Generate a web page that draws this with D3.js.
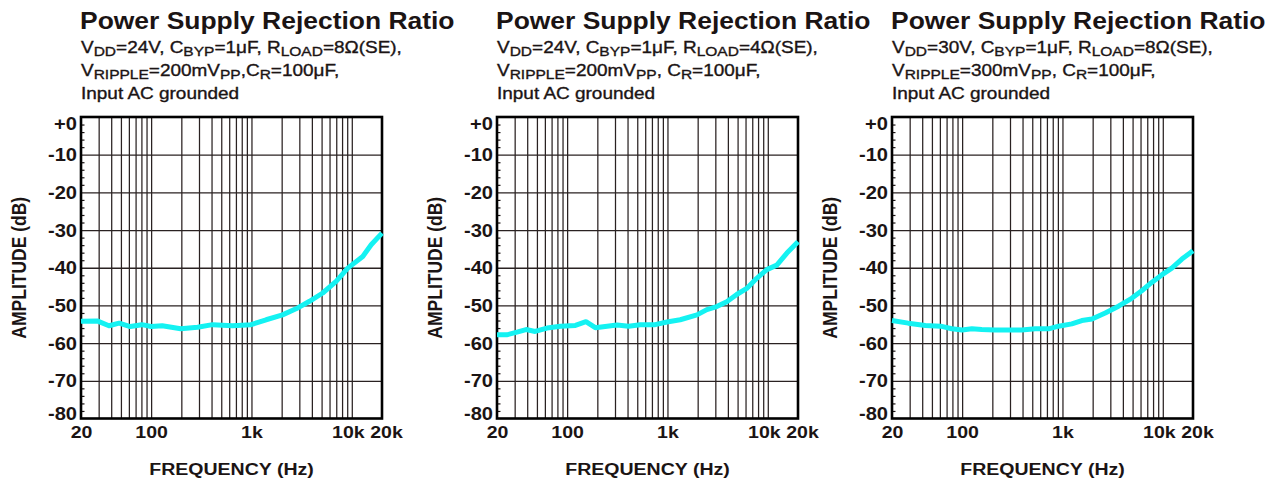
<!DOCTYPE html>
<html>
<head>
<meta charset="utf-8">
<script src="https://cdn.jsdelivr.net/npm/d3@7"></script>
<style>
	body { margin: 0; background: #fff; }
	svg { display: block; font-family: "Liberation Sans", Arial, Helvetica, sans-serif; }
</style>
</head>
<body>
<div id="chart"></div>
<script>
'use strict';


// ----------   Data   ------------ //

const titleText = "Power Supply Rejection Ratio";

const subtitlesA = ["V_{DD}=24V, C_{BYP}=1μF, R_{LOAD}=8Ω(SE),", "V_{RIPPLE}=200mV_{PP},C_{R}=100μF,", "Input AC grounded"];
const subtitlesB = ["V_{DD}=24V, C_{BYP}=1μF, R_{LOAD}=4Ω(SE),", "V_{RIPPLE}=200mV_{PP}, C_{R}=100μF,", "Input AC grounded"];
const subtitlesC = ["V_{DD}=30V, C_{BYP}=1μF, R_{LOAD}=8Ω(SE),", "V_{RIPPLE}=300mV_{PP}, C_{R}=100μF,", "Input AC grounded"];

const frequencyA = [20, 29, 38, 48, 62, 81, 100, 129, 197, 290, 410, 648, 990, 1400, 2040, 2780, 3790, 5130, 6980, 9120, 12860, 15600, 20000];
const amplitudeA = [-54.2, -54.1, -55.4, -54.7, -55.6, -55.1, -55.6, -55.4, -56.2, -55.8, -55.1, -55.4, -55.1, -53.8, -52.5, -50.9, -48.9, -46.7, -43.6, -40.1, -37.0, -33.9, -30.8];

const frequencyB = [20, 25, 31.6, 39, 48, 63, 86, 121, 154, 191, 314, 410, 536, 755, 987, 1340, 1970, 2470, 3100, 3900, 4900, 6170, 7760, 9770, 12300, 15500, 20000];
const amplitudeB = [-57.8, -57.8, -57.1, -56.4, -56.9, -56.0, -55.5, -55.3, -54.3, -55.9, -55.2, -55.5, -55.1, -55.1, -54.4, -53.8, -52.5, -51.1, -50.3, -49.0, -47.1, -45.5, -42.8, -40.5, -39.3, -36.1, -33.1];

const frequencyC = [20, 29, 43, 61, 79, 100, 125, 157, 213, 290, 392, 536, 728, 915, 1240, 1560, 1970, 2670, 3620, 4900, 6170, 7760, 9770, 12300, 15500, 20000];
const amplitudeC = [-54.0, -54.7, -55.3, -55.5, -56.2, -56.5, -56.2, -56.4, -56.5, -56.5, -56.5, -56.2, -56.2, -55.5, -54.9, -54.0, -53.6, -52.0, -50.2, -48.1, -46.1, -43.9, -41.9, -40.1, -37.7, -35.5];

const xTickValues = [20, 100, 1000, 10000, 20000];
const xTickLabels = ["20", "100", "1k", "10k", "20k"];
const xGridValues = [30, 40, 50, 60, 70, 80, 90, 100, 200, 300, 400, 500, 600, 700, 800, 900, 1000, 2000, 3000, 4000, 5000, 6000, 7000, 8000, 9000, 10000];

const yTickValues = [0, -10, -20, -30, -40, -50, -60, -70, -80];
const yTickLabels = ["+0", "-10", "-20", "-30", "-40", "-50", "-60", "-70", "-80"];


// ----------   Layout   ------------ //

const SX       = 1.15;     // the source artwork is stretched horizontally
const plotTop  = 117;
const plotW    = 301;
const plotH    = 301.5;
const lefts    = [81, 497, 892];
const ink      = "#1b1414";
const gridInk  = "#2a2222";
const cyan     = "#14f2f2";


const svg = d3.select("#chart")
	.append("svg")
	.attr("width", 1278)
	.attr("height", 483);


const stretched = (g, x, y, str, size, weight, anchor) => g
	.append("text")
	.attr("transform", `translate(${x},${y}) scale(${SX},1)`)
	.attr("font-size", size)
	.attr("font-weight", weight)
	.attr("text-anchor", anchor)
	.attr("fill", ink)
	.text(str);


const richLine = (g, x, y, str) =>
{
	const text = g.append("text")
		.attr("transform", `translate(${x},${y}) scale(${SX},1)`)
		.attr("font-size", 16.5)
		.attr("fill", ink)
		.attr("stroke", ink)
		.attr("stroke-width", 0.35);

	const parts = str.split(/_\{([^}]*)\}/);
	parts.forEach((part, i) =>
	{
		if (part === "") return;
		const isSub = i % 2 === 1;
		text.append("tspan")
			.attr("font-size", isSub ? 13.5 : 16.5)
			.attr("dy", isSub ? 3 : (i > 0 ? -3 : 0))
			.text(part);
	});
};


const drawPanel = (left, subtitles, freqs, amps) =>
{
	const x = d3.scaleLog().domain([20, 20000]).range([0, plotW]);
	const y = d3.scaleLinear().domain([-80, 0]).range([plotH, 0]);

	const g = svg.append("g")
		.attr("transform", `translate(${left},${plotTop})`);

	// headings
	stretched(svg, left - 1, 29, titleText, 23, "bold", "start");
	subtitles.forEach((line, i) => richLine(svg, left, 53 + i * 23, line));

	// grid
	g.append("g")
		.attr("transform", `translate(0,${plotH})`)
		.call(d3.axisBottom(x).tickValues(xGridValues).tickSize(-plotH).tickFormat(""))
		.call(a => a.select(".domain").remove())
		.selectAll("line")
		.attr("stroke", gridInk)
		.attr("stroke-width", 1.25);

	g.append("g")
		.call(d3.axisLeft(y).tickValues(yTickValues.slice(1, -1)).tickSize(-plotW).tickFormat(""))
		.call(a => a.select(".domain").remove())
		.selectAll("line")
		.attr("stroke", gridInk)
		.attr("stroke-width", 1.3);

	// minor ticks inside the left edge
	g.append("g")
		.call(d3.axisRight(y).tickValues(d3.range(-78, 0, 2).filter(v => v % 10 !== 0)).tickSize(3.5).tickFormat(""))
		.call(a => a.select(".domain").remove())
		.selectAll("line")
		.attr("stroke", ink)
		.attr("stroke-width", 1.2);

	g.append("rect")
		.attr("width", plotW)
		.attr("height", plotH)
		.attr("fill", "none")
		.attr("stroke", "#000")
		.attr("stroke-width", 2.6);

	// tick labels
	g.append("g")
		.call(d3.axisLeft(y).tickValues(yTickValues).tickSize(0).tickFormat((d, i) => yTickLabels[i]))
		.call(a => a.select(".domain").remove())
		.selectAll("text")
		.attr("x", -4 / SX)
		.attr("dy", d => d === 0 ? "0.7em" : d === -80 ? "0.05em" : "0.35em")
		.attr("transform", `scale(${SX},1)`)
		.attr("font-size", 17.5)
		.attr("font-weight", "bold")
		.attr("font-family", "Liberation Sans, Arial, sans-serif")
		.attr("fill", ink);

	g.append("g")
		.attr("transform", `translate(0,${plotH})`)
		.call(d3.axisBottom(x).tickValues(xTickValues).tickSize(0).tickFormat((d, i) => xTickLabels[i]))
		.call(a => a.select(".domain").remove())
		.selectAll("text")
		.attr("x", d => (d === 10000 ? -4 : d === 20000 ? 4 : 0) / SX)
		.attr("y", 20)
		.attr("dy", 0)
		.attr("transform", `scale(${SX},1)`)
		.attr("font-size", 17)
		.attr("font-weight", "bold")
		.attr("font-family", "Liberation Sans, Arial, sans-serif")
		.attr("fill", ink);

	// axis titles
	stretched(g, plotW / 2, 358, "FREQUENCY (Hz)", 17, "bold", "middle");

	g.append("text")
		.attr("transform", `translate(-55,${plotH / 2}) scale(${SX},1) rotate(-90)`)
		.attr("font-size", 17.5)
		.attr("font-weight", "bold")
		.attr("text-anchor", "middle")
		.attr("fill", ink)
		.text("AMPLITUDE (dB)");

	// curve
	const points = freqs.map((f, i) => ({ f: f, v: amps[i] }));

	g.append("path")
		.datum(points)
		.attr("fill", "none")
		.attr("stroke", cyan)
		.attr("stroke-width", 5)
		.attr("stroke-linejoin", "round")
		.attr("d", d3.line().x(p => x(p.f)).y(p => y(p.v)));
};


// ----------   Main Program   ------------ //

drawPanel(lefts[0], subtitlesA, frequencyA, amplitudeA);
drawPanel(lefts[1], subtitlesB, frequencyB, amplitudeB);
drawPanel(lefts[2], subtitlesC, frequencyC, amplitudeC);

</script>
</body>
</html>
